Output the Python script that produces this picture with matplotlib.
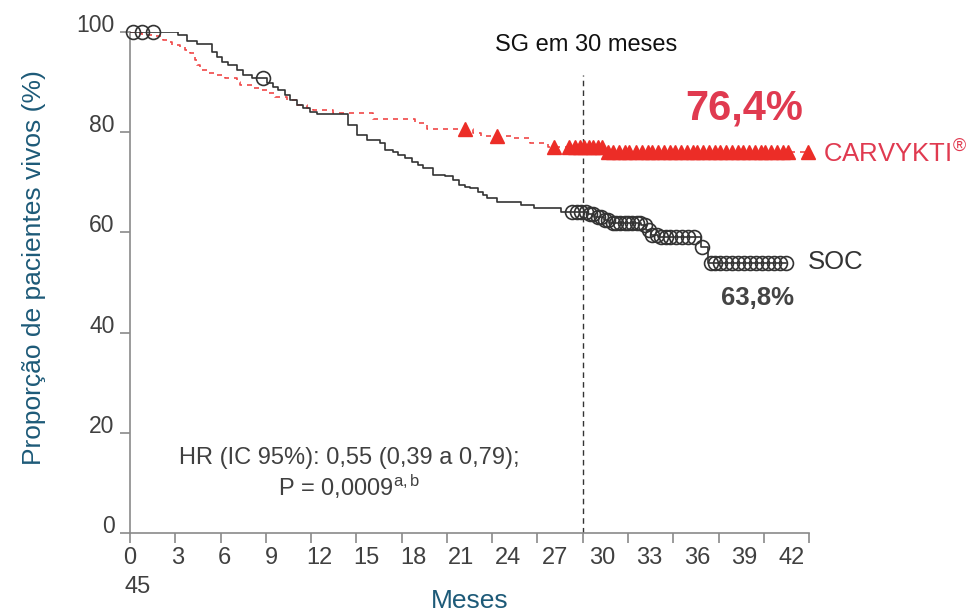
import numpy as np
import matplotlib
matplotlib.use("Agg")
import matplotlib.pyplot as plt
import matplotlib.transforms as mtransforms

plt.rcParams['font.family'] = ['Liberation Sans', 'DejaVu Sans']
plt.rcParams['mathtext.fontset'] = 'custom'
plt.rcParams['mathtext.rm'] = 'Liberation Sans'
plt.rcParams['mathtext.it'] = 'Liberation Sans'

# CARVYKTI (step times in months, survival %)
car_t = [0, 0.33, 0.80, 1.53, 2.19, 2.46, 2.79, 3.32, 3.65, 3.98, 4.31, 4.45, 4.65,
         5.11, 5.64, 6.30, 7.10, 7.30, 8.10, 8.63, 9.09, 9.62, 10.42, 11.08, 11.74,
         12.14, 13.47, 16.13, 18.91, 19.71, 22.76, 23.23, 25.22, 26.54, 27.67, 31.39, 44.9]
car_s = [100, 99.8, 99.4, 99.2, 98.4, 98.0, 97.4, 97.0, 96.4, 95.8, 94.4, 93.4, 92.4,
         91.8, 91.4, 90.8, 90.0, 89.4, 88.8, 88.4, 87.8, 87.0, 86.4, 85.4, 84.8,
         84.4, 83.8, 82.6, 81.9, 80.6, 79.8, 79.2, 78.8, 77.8, 77.0, 76.0, 76.0]
car_cens = [22.2, 24.3, 28.1, 29.1, 29.5, 29.8, 30.1, 30.4, 30.7, 31.0, 31.3, 31.7,
            32.0, 32.4, 32.8, 33.1, 33.5, 33.9, 34.3, 34.6, 35.0, 35.4, 35.8, 36.1,
            36.5, 36.9, 37.3, 37.6, 38.0, 38.4, 38.8, 39.1, 39.5, 39.9, 40.3, 40.6,
            41.0, 41.4, 41.8, 42.1, 42.5, 42.9, 43.3, 43.6, 44.9]

# SOC
soc_t = [0, 3.19, 3.78, 4.45, 5.44, 5.77, 6.10, 6.50, 7.10, 7.50, 8.10, 9.09, 9.49,
         9.82, 10.29, 10.62, 11.08, 11.48, 11.94, 12.41, 14.47, 15.06, 15.73, 16.59,
         16.92, 17.45, 17.78, 18.25, 18.71, 19.11, 19.44, 20.11, 20.90, 21.43, 21.77,
         22.23, 22.56, 23.03, 23.36, 23.69, 24.35, 25.88, 26.74, 28.53, 30.33, 30.72,
         31.39, 31.72, 33.84, 34.17, 34.51, 34.97, 37.82, 38.29, 43.5]
soc_s = [100, 99.4, 98.2, 97.6, 96.0, 95.0, 94.0, 93.4, 92.4, 91.4, 90.8, 89.8, 89.0,
         88.4, 87.4, 86.4, 85.4, 84.8, 84.0, 83.6, 81.4, 79.4, 78.4, 77.8,
         76.4, 76.0, 75.4, 74.8, 74.0, 73.4, 72.9, 71.5, 71.3, 70.5, 69.5,
         69.1, 68.9, 68.1, 67.5, 66.9, 66.0, 65.5, 64.9, 64.1, 63.6, 63.1,
         62.5, 61.9, 61.5, 60.5, 59.5, 59.1, 57.0, 53.9, 53.9]
soc_cens = [0.2, 0.8, 1.5, 8.8, 29.3, 29.6, 29.9, 30.2, 30.5, 30.7, 31.0, 31.2, 31.5,
            31.7, 32.0, 32.2, 32.5, 32.8, 33.0, 33.3, 33.6, 33.8, 34.1, 34.4, 34.6,
            34.9, 35.2, 35.5, 35.8, 36.2, 36.6, 37.0, 37.4, 37.9, 38.5, 38.8, 39.1,
            39.5, 39.9, 40.3, 40.7, 41.1, 41.5, 41.9, 42.3, 42.7, 43.1, 43.5]

y_ticks = [0, 20, 40, 60, 80, 100]
x_ticks = list(range(0, 46, 3))
x_labels = ['0', '3', '6', '9', '12', '15', '18', '21', '24', '27', '30', '33', '36', '39', '42']


def step_value(t, s, x):
    idx = np.searchsorted(t, x, side='right') - 1
    return np.asarray(s)[idx]


red_line = '#f04848'
red_mark = '#ec2d27'
red_text = '#e03a50'
teal = '#1d5a78'
dark = '#404040'
axis_gray = '#8a8a8a'

fig = plt.figure(figsize=(9.71, 6.13), dpi=100)
ax = fig.add_axes([0.1339, 0.1305, 0.6993, 0.8173])

ax.step(car_t, car_s, where='post', color=red_line, lw=1.2, linestyle=(0, (3, 3)), zorder=3)
ax.plot(car_cens, step_value(car_t, car_s, car_cens), linestyle='none', marker='^',
        ms=10, color=red_mark, mec=red_mark, zorder=4, clip_on=False)

ax.step(soc_t, soc_s, where='post', color='#333333', lw=1.2, zorder=5)
ax.plot(soc_cens, step_value(soc_t, soc_s, soc_cens), linestyle='none', marker='o',
        ms=10, mfc='none', mec='#333333', mew=1.2, zorder=6, clip_on=False)

ax.vlines(30, 0, 91.5, colors='#333333', linestyles=(0, (4, 3)), lw=1)

ax.set_xlim(0, 45)
ax.set_ylim(0, 100)
for side in ['top', 'right']:
    ax.spines[side].set_visible(False)
for side in ['left', 'bottom']:
    ax.spines[side].set_color(axis_gray)
    ax.spines[side].set_linewidth(1.2)

ax.xaxis.remove_overlapping_locs = False
ax.set_xticks(x_ticks)
ax.set_xticklabels([])
lbl_pos = np.arange(len(x_labels)) * 3.13
ax.set_xticks(lbl_pos, x_labels, minor=True)
ax.tick_params(axis='x', which='major', length=7, width=1.2, color=axis_gray)
ax.tick_params(axis='x', which='minor', length=0, pad=10, labelsize=17, labelcolor=dark)

ax.set_yticks(y_ticks)
ax.tick_params(axis='y', length=7, width=1.2, color=axis_gray, labelsize=16.5,
               labelcolor=dark, pad=4)
for lbl in ax.get_yticklabels():
    lbl.set_verticalalignment('baseline')

tr = mtransforms.blended_transform_factory(ax.transData, ax.transAxes)
ax.text(0.5, -0.108, '45', transform=tr, ha='center', va='center', fontsize=17, color=dark)

ax.set_xlabel('Meses', fontsize=19, color=teal, va='center')
ax.xaxis.set_label_coords(0.5, -0.136)
ax.set_ylabel('Proporção de pacientes vivos (%)', fontsize=19, color=teal, va='center')
ax.yaxis.set_label_coords(-0.141, 0.53)

ax.text(30.2, 97.4, 'SG em 30 meses', ha='center', va='center', fontsize=17, color='#111111')
ax.text(40.7, 84.8, '76,4%', ha='center', va='center', fontsize=30, fontweight='bold',
        color=red_text)
ax.text(45.9, 75.6, 'CARVYKTI$^{®}$', ha='left', va='center', fontsize=18.5, color=red_text,
        clip_on=False)
ax.text(44.9, 54.1, 'SOC', ha='left', va='center', fontsize=18.5, color='#333333',
        clip_on=False)
ax.text(41.6, 46.9, '63,8%', ha='center', va='center', fontsize=18.5, fontweight='bold',
        color='#444444')
ax.text(14.5, 15.0, 'HR (IC 95%): 0,55 (0,39 a 0,79);', ha='center', va='center',
        fontsize=17, color=dark)
ax.text(14.5, 9.2, 'P = 0,0009$^{\\mathrm{a,b}}$', ha='center', va='center',
        fontsize=17, color=dark)

fig.savefig('out.png', dpi=100)
